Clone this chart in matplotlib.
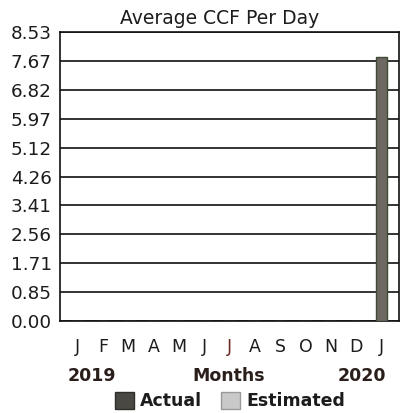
import matplotlib
matplotlib.use("Agg")
import matplotlib.pyplot as plt
from matplotlib.patches import Patch

months = ["J", "F", "M", "A", "M", "J", "J", "A", "S", "O", "N", "D", "J"]
actual = [0, 0, 0, 0, 0, 0, 0, 0, 0, 0, 0, 0, 7.8]
yticks = [0.00, 0.85, 1.71, 2.56, 3.41, 4.26, 5.12, 5.97, 6.82, 7.67, 8.53]
ytick_labels = ["0.00", "0.85", "1.71", "2.56", "3.41", "4.26", "5.12", "5.97", "6.82", "7.67", "8.53"]

txt = "#1c1c1c"
fig = plt.figure(figsize=(4.01, 4.13), dpi=100)
ax = fig.add_axes([60/401, 1-321/413, (399-60)/401, (321-32)/413])

x = list(range(len(months)))
ax.bar(x, actual, width=0.42, color="#6e6862", edgecolor="#3e4a36", linewidth=1.0, zorder=3)

ax.set_ylim(0, 8.53)
ax.set_xlim(-0.7, 12.7)
ax.set_yticks(yticks)
ax.set_yticklabels(ytick_labels, fontsize=13.2, color=txt)
ax.set_xticks(x)
ax.set_xticklabels(months, fontsize=12.5, color=txt)
for i, lab in enumerate(ax.get_xticklabels()):
    if i == 6:
        lab.set_color("#6a2a22")
ax.tick_params(axis="y", length=0, pad=6)
ax.tick_params(axis="x", length=0, pad=12)
ax.yaxis.grid(True, color="#111111", linewidth=1.2, zorder=1)
for s in ax.spines.values():
    s.set_color("#111111")
    s.set_linewidth(1.2)

fig.text(220/401, 1-18/413, "Average CCF Per Day", ha="center", va="center", fontsize=13.5, color=txt)

fig.text(92/401, 1-376/413, "2019", ha="center", va="center", fontsize=12.5, fontweight="bold", color="#2a1e1a")
fig.text(229/401, 1-376/413, "Months", ha="center", va="center", fontsize=12.5, fontweight="bold", color="#2a1e1a")
fig.text(362/401, 1-376/413, "2020", ha="center", va="center", fontsize=12.5, fontweight="bold", color="#2a1e1a")

handles = [Patch(facecolor="#4a4843", edgecolor="#2e2e2a", label="Actual"),
           Patch(facecolor="#c9c9c9", edgecolor="#9a9a9a", label="Estimated")]
fig.legend(handles=handles, loc="center", bbox_to_anchor=(230/401, 1-401/413), ncol=2,
           frameon=False, handlelength=1.1, handleheight=1.1, handletextpad=0.35,
           columnspacing=1.1, prop={"size": 12.5, "weight": "bold"}, labelcolor=txt,
           borderpad=0, borderaxespad=0)

fig.savefig("out.png", dpi=100)
